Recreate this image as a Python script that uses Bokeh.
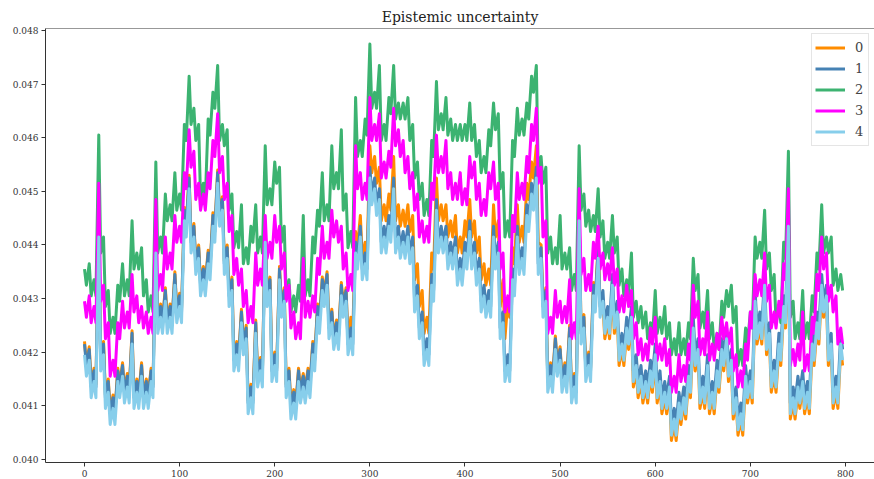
from bokeh.plotting import figure
from bokeh.models import Range1d, FixedTicker, PrintfTickFormatter, Span
from bokeh.embed import file_html
from bokeh.resources import INLINE

# Each series is read as the upper ("hi", at step 5k) and lower ("lo", at 5k+2)
# edge of its jagged band, so the line zig-zags through the band as in the picture.
x_hi = list(range(0, 800, 5))
x_lo = list(range(2, 800, 5))

series_names = ["0", "1", "2", "3", "4"]
series_colors = ["darkorange", "steelblue", "mediumseagreen", "magenta", "skyblue"]

series0_hi = [
    0.04220, 0.04210, 0.04170, 0.04440, 0.04220, 0.04150, 0.04120, 0.04170, 0.04180, 0.04160,
    0.04240, 0.04150, 0.04180, 0.04150, 0.04170, 0.04410, 0.04290, 0.04320, 0.04290, 0.04350,
    0.04310, 0.04470, 0.04530, 0.04440, 0.04400, 0.04360, 0.04390, 0.04460, 0.04540, 0.04490,
    0.04400, 0.04340, 0.04220, 0.04280, 0.04250, 0.04140, 0.04260, 0.04190, 0.04430, 0.04340,
    0.04200, 0.04360, 0.04320, 0.04170, 0.04130, 0.04170, 0.04160, 0.04170, 0.04220, 0.04290,
    0.04340, 0.04350, 0.04280, 0.04260, 0.04330, 0.04320, 0.04265, 0.04425, 0.04455, 0.04405,
    0.04585, 0.04565, 0.04545, 0.04475, 0.04495, 0.04565, 0.04475, 0.04465, 0.04475, 0.04455,
    0.04365, 0.04315, 0.04265, 0.04385, 0.04525, 0.04475, 0.04475, 0.04445, 0.04455, 0.04415,
    0.04445, 0.04485, 0.04445, 0.04415, 0.04365, 0.04355, 0.04475, 0.04445, 0.04335, 0.04295,
    0.04395, 0.04475, 0.04435, 0.04515, 0.04555, 0.04585, 0.04400, 0.04320, 0.04180, 0.04230,
    0.04210, 0.04180, 0.04250, 0.04160, 0.04470, 0.04270, 0.04200, 0.04330, 0.04400, 0.04285,
    0.04255, 0.04315, 0.04265, 0.04205, 0.04235, 0.04255, 0.04165, 0.04145, 0.04135, 0.04155,
    0.04185, 0.04135, 0.04115, 0.04125, 0.04065, 0.04095, 0.04105, 0.04145, 0.04235, 0.04195,
    0.04125, 0.04165, 0.04115, 0.04155, 0.04195, 0.04215, 0.04175, 0.04105, 0.04075, 0.04145,
    0.04135, 0.04285, 0.04245, 0.04315, 0.04225, 0.04155, 0.04205, 0.04275, 0.04425, 0.04105,
    0.04125, 0.04135, 0.04115, 0.04205, 0.04245, 0.04315, 0.04295, 0.04205, 0.04125, 0.04205,
]
series0_lo = [
    0.04180, 0.04140, 0.04140, 0.04190, 0.04120, 0.04090, 0.04090, 0.04140, 0.04130, 0.04130,
    0.04120, 0.04120, 0.04120, 0.04120, 0.04140, 0.04260, 0.04260, 0.04260, 0.04260, 0.04280,
    0.04280, 0.04440, 0.04410, 0.04370, 0.04330, 0.04330, 0.04360, 0.04430, 0.04460, 0.04370,
    0.04310, 0.04190, 0.04190, 0.04220, 0.04110, 0.04110, 0.04160, 0.04160, 0.04310, 0.04170,
    0.04170, 0.04290, 0.04140, 0.04100, 0.04100, 0.04130, 0.04130, 0.04140, 0.04190, 0.04260,
    0.04310, 0.04250, 0.04230, 0.04230, 0.04290, 0.04220, 0.04235, 0.04395, 0.04375, 0.04375,
    0.04535, 0.04515, 0.04445, 0.04445, 0.04465, 0.04445, 0.04435, 0.04435, 0.04425, 0.04335,
    0.04285, 0.04235, 0.04235, 0.04355, 0.04445, 0.04445, 0.04415, 0.04415, 0.04385, 0.04385,
    0.04415, 0.04415, 0.04385, 0.04335, 0.04325, 0.04325, 0.04415, 0.04285, 0.04225, 0.04265,
    0.04365, 0.04405, 0.04405, 0.04485, 0.04525, 0.04405, 0.04290, 0.04150, 0.04150, 0.04180,
    0.04150, 0.04150, 0.04130, 0.04130, 0.04240, 0.04170, 0.04170, 0.04300, 0.04290, 0.04225,
    0.04225, 0.04235, 0.04175, 0.04175, 0.04205, 0.04135, 0.04115, 0.04105, 0.04105, 0.04125,
    0.04105, 0.04085, 0.04085, 0.04035, 0.04035, 0.04065, 0.04075, 0.04115, 0.04165, 0.04095,
    0.04095, 0.04085, 0.04085, 0.04125, 0.04165, 0.04145, 0.04075, 0.04045, 0.04045, 0.04105,
    0.04105, 0.04215, 0.04215, 0.04195, 0.04125, 0.04125, 0.04175, 0.04245, 0.04075, 0.04075,
    0.04095, 0.04085, 0.04085, 0.04175, 0.04215, 0.04265, 0.04175, 0.04095, 0.04095, 0.04175,
]

series1_hi = [
    0.04215, 0.04205, 0.04165, 0.04435, 0.04215, 0.04145, 0.04115, 0.04165, 0.04175, 0.04155,
    0.04235, 0.04145, 0.04175, 0.04145, 0.04165, 0.04405, 0.04285, 0.04315, 0.04285, 0.04345,
    0.04305, 0.04465, 0.04525, 0.04435, 0.04395, 0.04355, 0.04385, 0.04455, 0.04535, 0.04485,
    0.04395, 0.04335, 0.04215, 0.04275, 0.04245, 0.04135, 0.04255, 0.04185, 0.04425, 0.04335,
    0.04195, 0.04355, 0.04315, 0.04165, 0.04125, 0.04165, 0.04155, 0.04165, 0.04215, 0.04285,
    0.04335, 0.04345, 0.04275, 0.04255, 0.04325, 0.04315, 0.04245, 0.04405, 0.04435, 0.04385,
    0.04545, 0.04525, 0.04505, 0.04435, 0.04455, 0.04525, 0.04435, 0.04425, 0.04435, 0.04415,
    0.04325, 0.04275, 0.04225, 0.04345, 0.04485, 0.04435, 0.04435, 0.04405, 0.04415, 0.04375,
    0.04405, 0.04445, 0.04405, 0.04375, 0.04325, 0.04315, 0.04435, 0.04405, 0.04275, 0.04195,
    0.04355, 0.04435, 0.04395, 0.04475, 0.04515, 0.04545, 0.04395, 0.04315, 0.04175, 0.04225,
    0.04205, 0.04175, 0.04245, 0.04155, 0.04465, 0.04265, 0.04195, 0.04325, 0.04395, 0.04315,
    0.04285, 0.04345, 0.04295, 0.04235, 0.04265, 0.04285, 0.04195, 0.04175, 0.04165, 0.04185,
    0.04215, 0.04165, 0.04145, 0.04155, 0.04095, 0.04125, 0.04135, 0.04175, 0.04265, 0.04225,
    0.04155, 0.04195, 0.04145, 0.04185, 0.04225, 0.04245, 0.04205, 0.04135, 0.04105, 0.04175,
    0.04165, 0.04315, 0.04275, 0.04345, 0.04255, 0.04185, 0.04235, 0.04305, 0.04455, 0.04135,
    0.04155, 0.04165, 0.04145, 0.04235, 0.04275, 0.04345, 0.04325, 0.04235, 0.04155, 0.04235,
]
series1_lo = [
    0.04175, 0.04135, 0.04135, 0.04185, 0.04115, 0.04085, 0.04085, 0.04135, 0.04125, 0.04125,
    0.04115, 0.04115, 0.04115, 0.04115, 0.04135, 0.04255, 0.04255, 0.04255, 0.04255, 0.04275,
    0.04275, 0.04435, 0.04405, 0.04365, 0.04325, 0.04325, 0.04355, 0.04425, 0.04455, 0.04365,
    0.04305, 0.04185, 0.04185, 0.04215, 0.04105, 0.04105, 0.04155, 0.04155, 0.04305, 0.04165,
    0.04165, 0.04285, 0.04135, 0.04095, 0.04095, 0.04125, 0.04125, 0.04135, 0.04185, 0.04255,
    0.04305, 0.04245, 0.04225, 0.04225, 0.04285, 0.04215, 0.04215, 0.04375, 0.04355, 0.04355,
    0.04495, 0.04475, 0.04405, 0.04405, 0.04425, 0.04405, 0.04395, 0.04395, 0.04385, 0.04295,
    0.04245, 0.04195, 0.04195, 0.04315, 0.04405, 0.04405, 0.04375, 0.04375, 0.04345, 0.04345,
    0.04375, 0.04375, 0.04345, 0.04295, 0.04285, 0.04285, 0.04375, 0.04245, 0.04165, 0.04165,
    0.04325, 0.04365, 0.04365, 0.04445, 0.04485, 0.04365, 0.04285, 0.04145, 0.04145, 0.04175,
    0.04145, 0.04145, 0.04125, 0.04125, 0.04235, 0.04165, 0.04165, 0.04295, 0.04285, 0.04255,
    0.04255, 0.04265, 0.04205, 0.04205, 0.04235, 0.04165, 0.04145, 0.04135, 0.04135, 0.04155,
    0.04135, 0.04115, 0.04115, 0.04065, 0.04065, 0.04095, 0.04105, 0.04145, 0.04195, 0.04125,
    0.04125, 0.04115, 0.04115, 0.04155, 0.04195, 0.04175, 0.04105, 0.04075, 0.04075, 0.04135,
    0.04135, 0.04245, 0.04245, 0.04225, 0.04155, 0.04155, 0.04205, 0.04275, 0.04105, 0.04105,
    0.04125, 0.04115, 0.04115, 0.04205, 0.04245, 0.04295, 0.04205, 0.04125, 0.04125, 0.04205,
]

series2_hi = [
    0.04355, 0.04365, 0.04335, 0.04605, 0.04415, 0.04315, 0.04265, 0.04325, 0.04365, 0.04335,
    0.04445, 0.04385, 0.04395, 0.04335, 0.04305, 0.04555, 0.04415, 0.04495, 0.04475, 0.04535,
    0.04495, 0.04625, 0.04715, 0.04655, 0.04625, 0.04515, 0.04635, 0.04685, 0.04735, 0.04625,
    0.04615, 0.04495, 0.04425, 0.04475, 0.04395, 0.04435, 0.04475, 0.04415, 0.04585, 0.04505,
    0.04555, 0.04545, 0.04435, 0.04335, 0.04305, 0.04325, 0.04455, 0.04335, 0.04415, 0.04465,
    0.04535, 0.04475, 0.04585, 0.04535, 0.04615, 0.04495, 0.04425, 0.04675, 0.04595, 0.04635,
    0.04775, 0.04685, 0.04735, 0.04625, 0.04675, 0.04735, 0.04665, 0.04665, 0.04675, 0.04625,
    0.04555, 0.04515, 0.04485, 0.04595, 0.04705, 0.04645, 0.04675, 0.04635, 0.04625, 0.04625,
    0.04625, 0.04665, 0.04625, 0.04595, 0.04565, 0.04615, 0.04665, 0.04645, 0.04535, 0.04445,
    0.04595, 0.04655, 0.04635, 0.04665, 0.04715, 0.04735, 0.04565, 0.04545, 0.04415, 0.04395,
    0.04455, 0.04385, 0.04395, 0.04345, 0.04585, 0.04495, 0.04465, 0.04455, 0.04505, 0.04445,
    0.04405, 0.04455, 0.04415, 0.04355, 0.04335, 0.04385, 0.04295, 0.04285, 0.04275, 0.04255,
    0.04315, 0.04265, 0.04285, 0.04255, 0.04225, 0.04255, 0.04225, 0.04255, 0.04375, 0.04345,
    0.04275, 0.04315, 0.04255, 0.04235, 0.04295, 0.04315, 0.04325, 0.04285, 0.04205, 0.04245,
    0.04275, 0.04415, 0.04405, 0.04465, 0.04385, 0.04345, 0.04285, 0.04405, 0.04575, 0.04295,
    0.04255, 0.04315, 0.04255, 0.04305, 0.04385, 0.04475, 0.04415, 0.04415, 0.04355, 0.04345,
]
series2_lo = [
    0.04325, 0.04305, 0.04305, 0.04385, 0.04285, 0.04235, 0.04235, 0.04295, 0.04305, 0.04305,
    0.04355, 0.04355, 0.04305, 0.04275, 0.04275, 0.04385, 0.04385, 0.04445, 0.04445, 0.04465,
    0.04465, 0.04595, 0.04625, 0.04595, 0.04485, 0.04485, 0.04605, 0.04655, 0.04595, 0.04585,
    0.04465, 0.04395, 0.04395, 0.04365, 0.04365, 0.04405, 0.04385, 0.04385, 0.04475, 0.04475,
    0.04515, 0.04405, 0.04305, 0.04275, 0.04275, 0.04295, 0.04305, 0.04305, 0.04385, 0.04435,
    0.04445, 0.04445, 0.04505, 0.04505, 0.04465, 0.04395, 0.04395, 0.04565, 0.04565, 0.04605,
    0.04655, 0.04655, 0.04595, 0.04595, 0.04645, 0.04635, 0.04635, 0.04635, 0.04595, 0.04525,
    0.04485, 0.04455, 0.04455, 0.04565, 0.04615, 0.04615, 0.04605, 0.04595, 0.04595, 0.04595,
    0.04595, 0.04595, 0.04565, 0.04535, 0.04535, 0.04585, 0.04615, 0.04505, 0.04415, 0.04415,
    0.04565, 0.04605, 0.04605, 0.04635, 0.04685, 0.04535, 0.04515, 0.04385, 0.04365, 0.04365,
    0.04355, 0.04355, 0.04315, 0.04315, 0.04465, 0.04435, 0.04425, 0.04425, 0.04415, 0.04375,
    0.04375, 0.04385, 0.04325, 0.04305, 0.04305, 0.04265, 0.04255, 0.04245, 0.04225, 0.04225,
    0.04235, 0.04235, 0.04225, 0.04195, 0.04195, 0.04195, 0.04195, 0.04225, 0.04315, 0.04245,
    0.04245, 0.04225, 0.04205, 0.04205, 0.04265, 0.04285, 0.04255, 0.04175, 0.04175, 0.04215,
    0.04245, 0.04375, 0.04375, 0.04355, 0.04315, 0.04255, 0.04255, 0.04375, 0.04265, 0.04225,
    0.04225, 0.04225, 0.04225, 0.04275, 0.04355, 0.04385, 0.04385, 0.04325, 0.04315, 0.04315,
]

series3_hi = [
    0.04295, 0.04305, 0.04285, 0.04515, 0.04325, 0.04255, 0.04185, 0.04255, 0.04295, 0.04275,
    0.04345, 0.04305, 0.04285, 0.04275, 0.04265, 0.04485, 0.04345, 0.04415, 0.04385, 0.04455,
    0.04435, 0.04535, 0.04615, 0.04575, 0.04515, 0.04495, 0.04535, 0.04595, 0.04645, 0.04565,
    0.04515, 0.04455, 0.04375, 0.04355, 0.04315, 0.04285, 0.04385, 0.04355, 0.04455, 0.04405,
    0.04455, 0.04435, 0.04385, 0.04325, 0.04275, 0.04255, 0.04375, 0.04295, 0.04305, 0.04375,
    0.04435, 0.04405, 0.04465, 0.04445, 0.04435, 0.04385, 0.04345, 0.04585, 0.04535, 0.04515,
    0.04675, 0.04625, 0.04645, 0.04555, 0.04575, 0.04655, 0.04615, 0.04595, 0.04565, 0.04535,
    0.04495, 0.04445, 0.04435, 0.04515, 0.04605, 0.04565, 0.04595, 0.04535, 0.04515, 0.04535,
    0.04505, 0.04565, 0.04555, 0.04515, 0.04485, 0.04535, 0.04555, 0.04515, 0.04385, 0.04305,
    0.04455, 0.04535, 0.04515, 0.04565, 0.04625, 0.04655, 0.04545, 0.04445, 0.04265, 0.04315,
    0.04295, 0.04285, 0.04335, 0.04255, 0.04505, 0.04375, 0.04345, 0.04405, 0.04435, 0.04385,
    0.04365, 0.04395, 0.04355, 0.04305, 0.04325, 0.04315, 0.04255, 0.04225, 0.04215, 0.04245,
    0.04265, 0.04215, 0.04225, 0.04205, 0.04155, 0.04195, 0.04175, 0.04215, 0.04325, 0.04295,
    0.04225, 0.04275, 0.04215, 0.04235, 0.04265, 0.04255, 0.04245, 0.04195, 0.04165, 0.04215,
    0.04275, 0.04345, 0.04335, 0.04385, 0.04325, 0.04275, 0.04295, 0.04365, 0.04505, 0.04205,
    0.04215, 0.04275, 0.04195, 0.04265, 0.04345, 0.04415, 0.04385, 0.04325, 0.04305, 0.04245,
]
series3_lo = [
    0.04265, 0.04255, 0.04255, 0.04295, 0.04225, 0.04155, 0.04155, 0.04225, 0.04245, 0.04245,
    0.04275, 0.04255, 0.04245, 0.04235, 0.04235, 0.04315, 0.04315, 0.04355, 0.04355, 0.04405,
    0.04405, 0.04505, 0.04545, 0.04485, 0.04465, 0.04465, 0.04505, 0.04565, 0.04535, 0.04485,
    0.04425, 0.04345, 0.04325, 0.04285, 0.04255, 0.04255, 0.04325, 0.04325, 0.04375, 0.04375,
    0.04405, 0.04355, 0.04295, 0.04245, 0.04225, 0.04225, 0.04265, 0.04265, 0.04275, 0.04345,
    0.04375, 0.04375, 0.04415, 0.04405, 0.04355, 0.04315, 0.04315, 0.04505, 0.04485, 0.04485,
    0.04595, 0.04595, 0.04525, 0.04525, 0.04545, 0.04585, 0.04565, 0.04535, 0.04505, 0.04465,
    0.04415, 0.04405, 0.04405, 0.04485, 0.04535, 0.04535, 0.04505, 0.04485, 0.04485, 0.04475,
    0.04475, 0.04525, 0.04485, 0.04455, 0.04455, 0.04505, 0.04485, 0.04355, 0.04275, 0.04275,
    0.04425, 0.04485, 0.04485, 0.04535, 0.04595, 0.04515, 0.04415, 0.04235, 0.04235, 0.04265,
    0.04255, 0.04255, 0.04225, 0.04225, 0.04345, 0.04315, 0.04315, 0.04375, 0.04355, 0.04335,
    0.04335, 0.04325, 0.04275, 0.04275, 0.04285, 0.04225, 0.04195, 0.04185, 0.04185, 0.04215,
    0.04185, 0.04185, 0.04175, 0.04125, 0.04125, 0.04145, 0.04145, 0.04185, 0.04265, 0.04195,
    0.04195, 0.04185, 0.04185, 0.04205, 0.04225, 0.04215, 0.04165, 0.04135, 0.04135, 0.04185,
    0.04245, 0.04305, 0.04305, 0.04295, 0.04245, 0.04245, 0.04265, 0.04335, 0.04175, 0.04175,
    0.04185, 0.04165, 0.04165, 0.04235, 0.04315, 0.04355, 0.04295, 0.04275, 0.04215, 0.04215,
]

series4_hi = [
    0.04195, 0.04185, 0.04145, 0.04415, 0.04195, 0.04125, 0.04095, 0.04145, 0.04155, 0.04135,
    0.04215, 0.04125, 0.04155, 0.04125, 0.04145, 0.04385, 0.04265, 0.04295, 0.04265, 0.04325,
    0.04285, 0.04445, 0.04505, 0.04415, 0.04375, 0.04335, 0.04365, 0.04435, 0.04515, 0.04465,
    0.04375, 0.04315, 0.04195, 0.04255, 0.04225, 0.04115, 0.04235, 0.04165, 0.04405, 0.04315,
    0.04175, 0.04335, 0.04295, 0.04145, 0.04105, 0.04145, 0.04135, 0.04145, 0.04195, 0.04265,
    0.04315, 0.04325, 0.04255, 0.04235, 0.04305, 0.04295, 0.04225, 0.04385, 0.04415, 0.04365,
    0.04525, 0.04505, 0.04485, 0.04415, 0.04435, 0.04505, 0.04415, 0.04405, 0.04415, 0.04395,
    0.04305, 0.04255, 0.04205, 0.04325, 0.04465, 0.04415, 0.04415, 0.04385, 0.04395, 0.04355,
    0.04385, 0.04425, 0.04385, 0.04355, 0.04305, 0.04295, 0.04415, 0.04385, 0.04255, 0.04175,
    0.04335, 0.04415, 0.04375, 0.04455, 0.04495, 0.04525, 0.04375, 0.04295, 0.04155, 0.04205,
    0.04185, 0.04155, 0.04225, 0.04135, 0.04445, 0.04245, 0.04175, 0.04305, 0.04375, 0.04295,
    0.04265, 0.04325, 0.04275, 0.04215, 0.04245, 0.04265, 0.04175, 0.04155, 0.04145, 0.04165,
    0.04195, 0.04145, 0.04125, 0.04135, 0.04075, 0.04105, 0.04115, 0.04155, 0.04245, 0.04205,
    0.04135, 0.04175, 0.04125, 0.04165, 0.04205, 0.04225, 0.04185, 0.04115, 0.04085, 0.04155,
    0.04145, 0.04295, 0.04255, 0.04325, 0.04235, 0.04165, 0.04215, 0.04285, 0.04435, 0.04115,
    0.04135, 0.04145, 0.04125, 0.04215, 0.04255, 0.04325, 0.04305, 0.04215, 0.04135, 0.04215,
]
series4_lo = [
    0.04155, 0.04115, 0.04115, 0.04165, 0.04095, 0.04065, 0.04065, 0.04115, 0.04105, 0.04105,
    0.04095, 0.04095, 0.04095, 0.04095, 0.04115, 0.04235, 0.04235, 0.04235, 0.04235, 0.04255,
    0.04255, 0.04415, 0.04385, 0.04345, 0.04305, 0.04305, 0.04335, 0.04405, 0.04435, 0.04345,
    0.04285, 0.04165, 0.04165, 0.04195, 0.04085, 0.04085, 0.04135, 0.04135, 0.04285, 0.04145,
    0.04145, 0.04265, 0.04115, 0.04075, 0.04075, 0.04105, 0.04105, 0.04115, 0.04165, 0.04235,
    0.04285, 0.04225, 0.04205, 0.04205, 0.04265, 0.04195, 0.04195, 0.04355, 0.04335, 0.04335,
    0.04475, 0.04455, 0.04385, 0.04385, 0.04405, 0.04385, 0.04375, 0.04375, 0.04365, 0.04275,
    0.04225, 0.04175, 0.04175, 0.04295, 0.04385, 0.04385, 0.04355, 0.04355, 0.04325, 0.04325,
    0.04355, 0.04355, 0.04325, 0.04275, 0.04265, 0.04265, 0.04355, 0.04225, 0.04145, 0.04145,
    0.04305, 0.04345, 0.04345, 0.04425, 0.04465, 0.04345, 0.04265, 0.04125, 0.04125, 0.04155,
    0.04125, 0.04125, 0.04105, 0.04105, 0.04215, 0.04145, 0.04145, 0.04275, 0.04265, 0.04235,
    0.04235, 0.04245, 0.04185, 0.04185, 0.04215, 0.04145, 0.04125, 0.04115, 0.04115, 0.04135,
    0.04115, 0.04095, 0.04095, 0.04045, 0.04045, 0.04075, 0.04085, 0.04125, 0.04175, 0.04105,
    0.04105, 0.04095, 0.04095, 0.04135, 0.04175, 0.04155, 0.04085, 0.04055, 0.04055, 0.04115,
    0.04115, 0.04225, 0.04225, 0.04205, 0.04135, 0.04135, 0.04185, 0.04255, 0.04085, 0.04085,
    0.04105, 0.04095, 0.04095, 0.04185, 0.04225, 0.04275, 0.04185, 0.04105, 0.04105, 0.04185,
]

x_ticks = [0, 100, 200, 300, 400, 500, 600, 700, 800]
y_ticks = [0.040, 0.041, 0.042, 0.043, 0.044, 0.045, 0.046, 0.047, 0.048]

p = figure(width=874, height=479, output_backend="svg", toolbar_location=None,
           x_range=Range1d(-41, 830.5), y_range=Range1d(0.03994, 0.04804),
           min_border_left=45, min_border_right=0, min_border_top=28,
           min_border_bottom=0)

p.title.text = "Epistemic uncertainty"
p.title.text_font = "DejaVu Serif"
p.title.text_font_size = "14px"
p.title.text_font_style = "normal"
p.title.text_color = "#222222"
p.title.align = "center"
p.title.standoff = 7

p.outline_line_color = None
p.xgrid.visible = False
p.ygrid.visible = False
p.background_fill_color = "white"
p.border_fill_color = "white"

for ax in (p.xaxis[0], p.yaxis[0]):
    ax.axis_line_color = "#333333"
    ax.axis_line_width = 1
    ax.major_tick_line_color = "#333333"
    ax.major_tick_out = 4
    ax.major_tick_in = 0
    ax.minor_tick_line_color = None
    ax.major_label_text_font = "DejaVu Serif"
    ax.major_label_text_font_size = "9px"
    ax.major_label_text_color = "#333333"
    ax.major_label_standoff = 3
    ax.axis_label = None

p.xaxis[0].ticker = FixedTicker(ticks=x_ticks)
p.yaxis[0].ticker = FixedTicker(ticks=y_ticks)
p.yaxis[0].formatter = PrintfTickFormatter(format="%.3f")

pairs = [(series0_hi, series0_lo), (series1_hi, series1_lo), (series2_hi, series2_lo),
         (series3_hi, series3_lo), (series4_hi, series4_lo)]
xs = [v for pair in zip(x_hi, x_lo) for v in pair]
for name, color, (hi, lo) in zip(series_names, series_colors, pairs):
    ys = [v for pair in zip(hi, lo) for v in pair]
    p.line(xs, ys, line_color=color, line_width=3, line_join="round", legend_label=name)

p.add_layout(Span(location=0.04804, dimension="width", line_color="#333333", line_width=1))

lg = p.legend[0]
lg.location = "top_right"
lg.margin = 5
lg.padding = 3
lg.spacing = 0
lg.glyph_width = 30
lg.glyph_height = 21
lg.label_height = 21
lg.label_width = 10
lg.label_standoff = 10
lg.label_text_font = "DejaVu Serif"
lg.label_text_font_size = "13px"
lg.border_line_color = "#cccccc"
lg.background_fill_alpha = 0.85

open("out.html", "w").write(file_html(p, INLINE))
